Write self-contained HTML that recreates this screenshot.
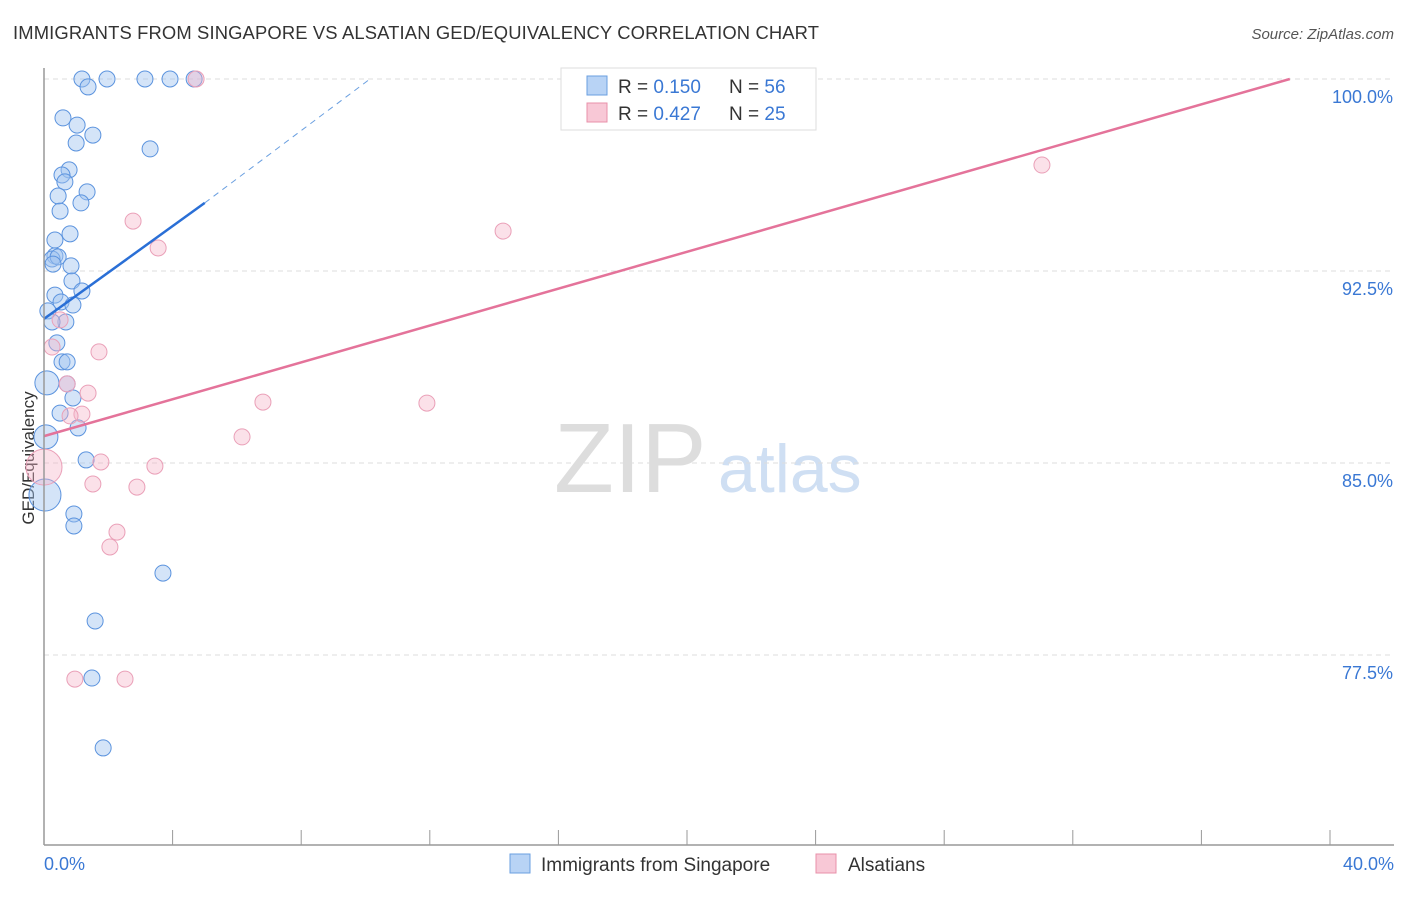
<!DOCTYPE html>
<html><head><meta charset="utf-8"><style>
body{margin:0;background:#fff;font-family:"Liberation Sans",sans-serif}
svg text{font-family:"Liberation Sans",sans-serif}
</style></head><body>
<svg id="chart" width="1406" height="892">
<text x="13" y="39" font-size="18.4" fill="#333" textLength="806">IMMIGRANTS FROM SINGAPORE VS ALSATIAN GED/EQUIVALENCY CORRELATION CHART</text>
<text x="1394" y="39" font-size="15" fill="#555" font-style="italic" text-anchor="end">Source: ZipAtlas.com</text>
<text transform="translate(34,458) rotate(-90)" font-size="17" fill="#333" text-anchor="middle">GED/Equivalency</text>
<text x="554" y="492" font-size="98" fill="#ddd" font-family="Liberation Serif">ZIP</text>
<text x="718" y="492" font-size="68" fill="#cfdff3">atlas</text>
<g id="grid"></g><g id="pts"></g><g id="lines"></g>
<line x1="44" y1="68" x2="44" y2="845" stroke="#999" stroke-width="1.5"/>
<line x1="44" y1="845" x2="1394" y2="845" stroke="#999" stroke-width="1.5"/>
<text x="44" y="870" font-size="18" fill="#3a78d4">0.0%</text>
<text x="1394" y="870" font-size="18" fill="#3a78d4" text-anchor="end">40.0%</text>
<g>
<rect x="561" y="68" width="255" height="62" fill="#fff" stroke="#ddd"/>
<rect x="587" y="76" width="20" height="19" fill="#b8d3f5" stroke="#6a9fe0"/>
<text x="618" y="93" font-size="19" fill="#333">R = <tspan fill="#3a78d4">0.150</tspan></text>
<text x="729" y="93" font-size="19" fill="#333">N = <tspan fill="#3a78d4">56</tspan></text>
<rect x="587" y="103" width="20" height="19" fill="#f8c8d6" stroke="#e890aa"/>
<text x="618" y="120" font-size="19" fill="#333">R = <tspan fill="#3a78d4">0.427</tspan></text>
<text x="729" y="120" font-size="19" fill="#333">N = <tspan fill="#3a78d4">25</tspan></text>
</g>
<g>
<rect x="510" y="854" width="20" height="19" fill="#b8d3f5" stroke="#6a9fe0"/>
<text x="541" y="871" font-size="19" fill="#333">Immigrants from Singapore</text>
<rect x="816" y="854" width="20" height="19" fill="#f8c8d6" stroke="#e890aa"/>
<text x="848" y="871" font-size="19" fill="#333">Alsatians</text>
</g>
</svg>
<script>
const yTicks=[100,92.5,85,77.5];
const yTickLabels=["100.0%","92.5%","85.0%","77.5%"];
const xTicks=[0,4,8,12,16,20,24,28,32,36,40];
const blueX=[1.18,1.37,1.96,3.14,3.92,4.67,0.59,1.03,1.52,1.00,3.30,0.78,0.56,0.65,1.34,0.44,1.15,0.50,0.81,0.34,0.34,0.25,0.44,0.28,0.84,0.87,1.18,0.34,0.53,0.90,0.12,0.68,0.25,0.40,0.56,0.72,0.09,0.72,0.90,0.50,1.06,0.06,1.31,0.03,0.93,0.93,3.70,1.59,1.49,1.84];
const blueY=[100,99.69,100,100,100,100,98.48,98.20,97.81,97.50,97.27,96.45,96.25,95.98,95.59,95.43,95.16,94.84,93.95,93.71,93.09,92.97,93.05,92.77,92.70,92.11,91.72,91.56,91.29,91.17,90.94,90.51,90.51,89.69,88.95,88.95,88.13,88.09,87.54,86.95,86.37,86.02,85.12,83.75,83.01,82.54,80.70,78.83,76.60,73.87];
const blueR=[8,8,8,8,8,8,8,8,8,8,8,8,8,8,8,8,8,8,8,8,8,8,8,8,8,8,8,8,8,8,8,8,8,8,8,8,12,8,8,8,8,12,8,16,8,8,8,8,8,8];
const pinkX=[4.73,2.77,3.55,14.28,31.04,0.50,0.25,1.71,0.72,1.37,1.18,0.81,6.81,11.91,6.16,1.77,3.45,0.0,1.52,2.89,2.27,2.05,0.96,2.52];
const pinkY=[100,94.45,93.40,94.06,96.64,90.59,89.53,89.34,88.09,87.73,86.91,86.84,87.38,87.34,86.02,85.04,84.88,84.84,84.18,84.06,82.30,81.72,76.56,76.56];
const pinkR=[8,8,8,8,8,8,8,8,8,8,8,8,8,8,8,8,8,18,8,8,8,8,8,8];
const blueLine=[[0,90.63],[5.0,95.16]];
const blueDash=[[5.0,95.16],[10.14,100]];
const pinkLine=[[0,86.05],[38.75,100]];
const xs=v=>44+v/40*1286, ys=v=>79+(100-v)/7.5*192;
const NS="http://www.w3.org/2000/svg";
function mk(t,p,a){const e=document.createElementNS(NS,t);for(const k in a)e.setAttribute(k,a[k]);p.appendChild(e);return e;}
const grid=document.getElementById('grid');
yTicks.forEach((t,i)=>{
 const l=mk('line',grid,{x1:44,x2:1394,y1:ys(t),y2:ys(t),stroke:'#ddd','stroke-dasharray':'5,4'});
 
 
 const tx=mk('text',grid,{x:1393,y:ys(t)+24,'font-size':18,fill:'#3a78d4','text-anchor':'end'});
 tx.textContent=yTickLabels[i];
 
 
});
xTicks.forEach(t=>{
 const l=mk('line',grid,{x1:xs(t),x2:xs(t),y1:830,y2:845,stroke:'#999'});
 
 
});
const pts=document.getElementById('pts');
blueX.forEach((x,i)=>{
 const c=mk('circle',pts,{cx:xs(x),cy:ys(blueY[i]),r:blueR[i],fill:'rgba(160,196,240,0.45)',stroke:'#5b93de','stroke-width':1});
 
 
});
pinkX.forEach((x,i)=>{
 const c=mk('circle',pts,{cx:xs(x),cy:ys(pinkY[i]),r:pinkR[i],fill:'rgba(245,180,200,0.4)',stroke:'#eaa0b8','stroke-width':1});
 
 
});
const lines=document.getElementById('lines');
const b=mk('line',lines,{x1:xs(blueLine[0][0]),y1:ys(blueLine[0][1]),x2:xs(blueLine[1][0]),y2:ys(blueLine[1][1]),stroke:'#2a6fd6','stroke-width':2.5});


const bd=mk('line',lines,{x1:xs(blueDash[0][0]),y1:ys(blueDash[0][1]),x2:xs(blueDash[1][0]),y2:ys(blueDash[1][1]),stroke:'#6a9fe0','stroke-width':1,'stroke-dasharray':'6,5'});


const p=mk('line',lines,{x1:xs(pinkLine[0][0]),y1:ys(pinkLine[0][1]),x2:xs(pinkLine[1][0]),y2:ys(pinkLine[1][1]),stroke:'#e4739a','stroke-width':2.5});


</script>
</body></html>
